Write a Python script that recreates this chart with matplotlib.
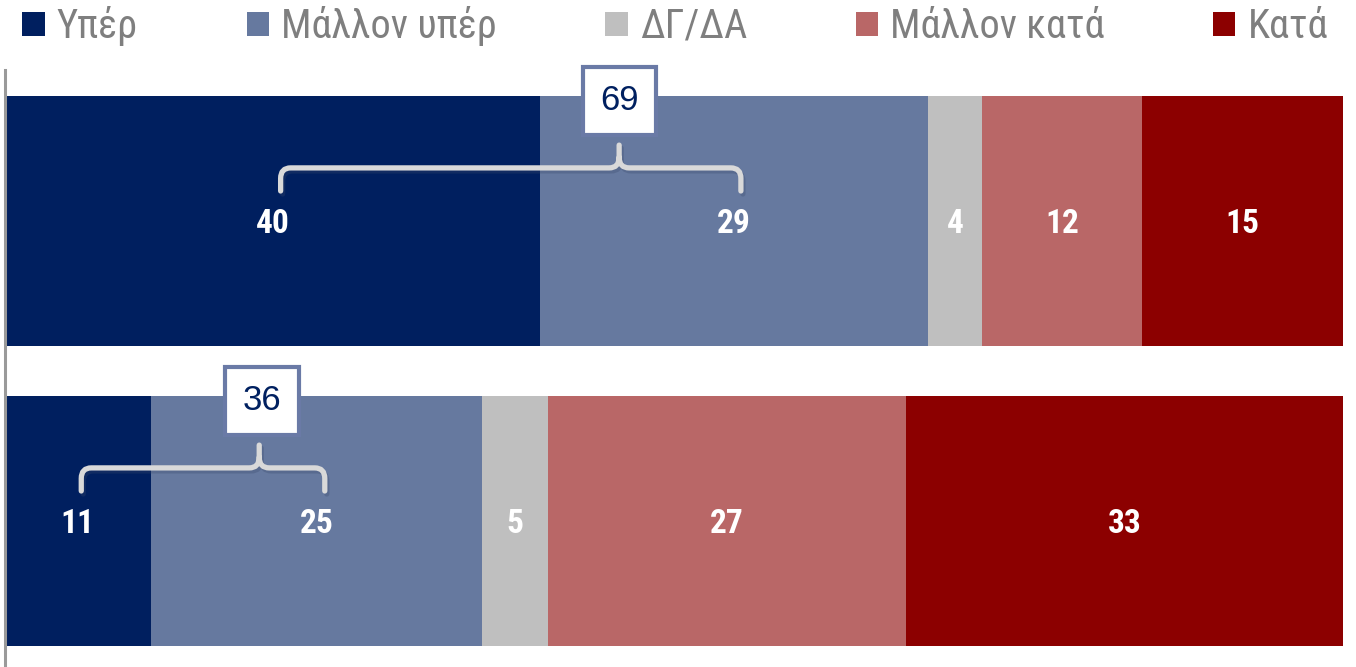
import matplotlib.pyplot as plt
from matplotlib.patches import Patch, PathPatch
from matplotlib.path import Path
import numpy as np

categories = ['Υπέρ', 'Μάλλον υπέρ', 'ΔΓ/ΔΑ', 'Μάλλον κατά', 'Κατά']
colors = ['#001f5f', '#66799f', '#bfbfbf', '#b96767', '#8c0000']
top_values = [40, 29, 4, 12, 15]
bottom_values = [11, 25, 5, 27, 33]
rows = [top_values, bottom_values]
totals = [69, 36]  # Υπέρ + Μάλλον υπέρ

narrow = ['Roboto Condensed', 'Open Sans Condensed', 'Fira Sans Condensed',
          'Liberation Sans', 'DejaVu Sans']

fig = plt.figure(figsize=(13.56, 6.67), dpi=100)
ax = fig.add_axes([5 / 1356, 0, 1338 / 1356, 597 / 667])

height = 250 / 300
for i, vals in enumerate(rows):
    vals = np.array(vals, dtype=float)
    widths = vals / vals.sum() * 100
    lefts = np.concatenate([[0], np.cumsum(widths)[:-1]])
    for v, w, l, c in zip(vals, widths, lefts, colors):
        ax.barh(i, w, left=l, height=height, color=c, edgecolor='none')
        ax.text(l + w / 2, i + 0.01, f'{int(v)}', ha='center', va='center',
                color='white', fontsize=24, fontweight='bold', family=narrow)

ax.set_xlim(0, 100)
ax.set_ylim(1 + 146 / 300, -151 / 300)
for s in ['top', 'right', 'bottom']:
    ax.spines[s].set_visible(False)
ax.spines['left'].set_color('#9a9a9a')
ax.spines['left'].set_linewidth(2.2)
ax.set_xticks([])
ax.set_yticks([])


def bracket(ax, row, x0, x1, xm):
    # curly bracket above the first two segments
    yh = row - 0.177
    ye = row - 0.100
    yt = row - 0.253
    rx, ry = 0.75, 0.035
    verts = [(x0, ye), (x0, yh + ry), (x0, yh), (x0 + rx, yh),
             (xm - rx, yh), (xm, yh), (xm, yh - ry), (xm, yt),
             (xm, yh - ry), (xm, yh), (xm + rx, yh),
             (x1 - rx, yh), (x1, yh), (x1, yh + ry), (x1, ye)]
    codes = [Path.MOVETO, Path.LINETO, Path.CURVE3, Path.CURVE3,
             Path.LINETO, Path.CURVE3, Path.CURVE3, Path.LINETO,
             Path.MOVETO, Path.CURVE3, Path.CURVE3,
             Path.LINETO, Path.CURVE3, Path.CURVE3, Path.LINETO]
    sh = [(x + 0.15, y + 0.01) for x, y in verts]
    ax.add_patch(PathPatch(Path(sh, codes), fc='none', ec='#3a4a6a', lw=3.8,
                           alpha=0.3, capstyle='round', joinstyle='round'))
    ax.add_patch(PathPatch(Path(verts, codes), fc='none', ec='#d9d9d9', lw=3.8,
                           capstyle='round', joinstyle='round'))


bracket(ax, 0, 20.6, 55.0, 45.9)
bracket(ax, 1, 5.7, 23.9, 19.0)

box_x = [45.9, 19.2]
for i, t in enumerate(totals):
    ax.text(box_x[i], i - 0.4, str(t), ha='center', va='center', fontsize=25,
            color='#002060', family=['Liberation Sans', 'DejaVu Sans'],
            bbox=dict(boxstyle='square,pad=0.5', fc='white', ec='#6a7aa6', lw=3))

handles = [Patch(facecolor=c, edgecolor='none') for c in colors]
fig.legend(handles, categories, loc='center left',
           bbox_to_anchor=(0.0165, 1 - 26 / 667),
           ncol=5, frameon=False, handlelength=0.55, handleheight=0.55,
           handletextpad=0.3, columnspacing=2.7, labelcolor='#7f7f7f',
           borderaxespad=0, borderpad=0,
           prop={'family': narrow, 'size': 29})

fig.savefig('out.png', dpi=100)
